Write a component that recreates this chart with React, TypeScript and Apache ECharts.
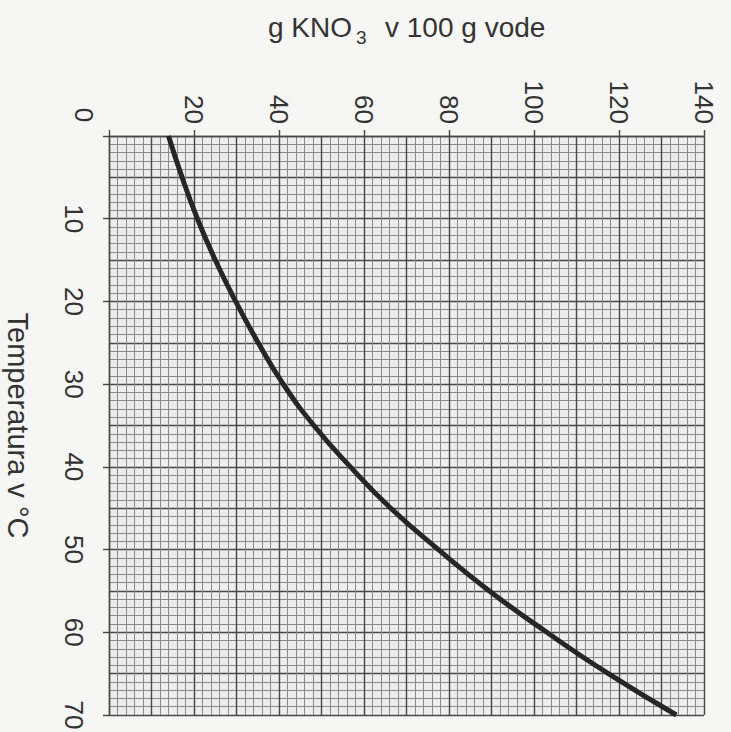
import React, { useEffect, useRef } from "react";
import * as echarts from "echarts";

const temperatures = [0, 5, 10, 15, 20, 25, 30, 35, 40, 45, 50, 55, 60, 65, 70];
const solubility = [14, 17.2, 20.8, 25, 29.8, 35.1, 41, 48.2, 56.8, 66.3, 77.5, 89.5, 103, 117.5, 133.5];
const xTicks = [20, 40, 60, 80, 100, 120, 140];
const yTicks = [10, 20, 30, 40, 50, 60, 70];
const originLabel = "0";

const FONT = "Liberation Sans, Arial, sans-serif";

export default function App() {
  const ref = useRef<HTMLDivElement>(null);
  useEffect(() => {
    document.body.style.margin = "0";
    const chart = echarts.init(ref.current!, null, { renderer: "svg" });
    const data = temperatures.map((t, i) => [solubility[i], t]);
    const majorLine = { show: true, lineStyle: { color: "#474747", width: 1.4 } };
    const minorLine = { show: true, lineStyle: { color: "#8a8a8a", width: 1 } };
    chart.setOption({
      animation: false,
      backgroundColor: "#f6f6f4",
      grid: {
        left: 109, top: 136, right: 27, bottom: 17, show: true,
        backgroundColor: "#ededed", borderWidth: 0,
        containLabel: false, outerBoundsMode: "none",
      },
      xAxis: [
        {
          type: "value", position: "top", min: 0, max: 140, interval: 10,
          axisLine: { show: true, lineStyle: { color: "#474747", width: 1.4 } },
          axisTick: { show: false }, axisLabel: { show: false },
          splitLine: majorLine,
          minorTick: { show: false, splitNumber: 5 },
          minorSplitLine: minorLine,
        },
        {
          type: "value", position: "top", min: 0, max: 140, interval: 20,
          axisLine: { show: false },
          axisTick: { show: true, length: 6, lineStyle: { color: "#444", width: 1.4 } },
          axisLabel: {
            show: true, rotate: -90, margin: 12, fontSize: 26, color: "#333", fontFamily: FONT,
            formatter: (v: number) => (xTicks.includes(v) ? String(v) : ""),
          },
          splitLine: { show: false },
        },
      ],
      yAxis: [
        {
          type: "value", inverse: true, min: 0, max: 70, interval: 5,
          axisLine: { show: true, lineStyle: { color: "#474747", width: 1.4 } },
          axisTick: { show: false }, axisLabel: { show: false },
          splitLine: majorLine,
          minorTick: { show: false, splitNumber: 5 },
          minorSplitLine: minorLine,
          name: "Temperatura v °C", nameLocation: "middle", nameRotate: -90, nameGap: 77,
          nameTextStyle: { fontSize: 29, color: "#333", fontFamily: FONT },
        },
        {
          type: "value", inverse: true, min: 0, max: 70, interval: 10, position: "left",
          axisLine: { show: false },
          axisTick: { show: true, length: 6, lineStyle: { color: "#444", width: 1.4 } },
          axisLabel: {
            show: true, rotate: -90, margin: 22, fontSize: 26, color: "#333", fontFamily: FONT,
            formatter: (v: number) => (yTicks.includes(v) ? String(v) : ""),
          },
          splitLine: { show: false },
        },
      ],
      graphic: [
        { type: "text", left: 268, top: 13, style: { text: "g KNO", font: `28px ${FONT}`, fill: "#333" } },
        { type: "text", left: 356, top: 28, style: { text: "3", font: `19px ${FONT}`, fill: "#333" } },
        { type: "text", left: 385, top: 13, style: { text: "v 100 g vode", font: `28px ${FONT}`, fill: "#333" } },
        {
          type: "text", x: 84, y: 115, rotation: -Math.PI / 2,
          style: { text: originLabel, font: `26px ${FONT}`, fill: "#333", align: "center", verticalAlign: "middle" },
        },
      ],
      series: [
        {
          type: "line", xAxisIndex: 0, yAxisIndex: 0, data, smooth: true, symbol: "none",
          lineStyle: { color: "#262626", width: 5 },
        },
      ],
    });
    return () => chart.dispose();
  }, []);
  return <div ref={ref} style={{ position: "absolute", left: 0, top: 0, width: 731, height: 732 }} />;
}
